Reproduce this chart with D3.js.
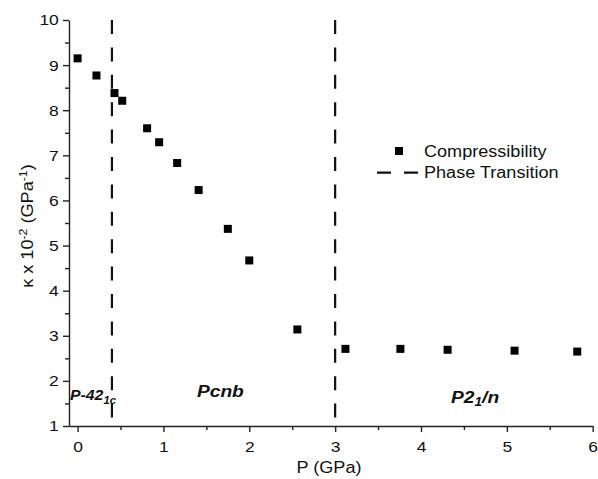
<!DOCTYPE html>
<html>
<head>
<meta charset="utf-8">
<script src="https://cdn.jsdelivr.net/npm/d3@7"></script>
<style>
  body { margin: 0; background: #fff; }
  text { font-family: Arial, "Liberation Sans", sans-serif; fill: #111; }
</style>
</head>
<body>
<div id="chart"></div>
<script>
// data
var pressure = [0.0, 0.22, 0.43, 0.52, 0.81, 0.95, 1.16, 1.41, 1.75, 2.0, 2.56, 3.12, 3.76, 4.31, 5.09, 5.82];
var kappa    = [9.15, 8.77, 8.38, 8.21, 7.60, 7.29, 6.83, 6.23, 5.37, 4.67, 3.14, 2.71, 2.71, 2.69, 2.67, 2.65];
var transitions = [0.4, 3.0];
var xTicks = [0, 1, 2, 3, 4, 5, 6];
var yTicks = [1, 2, 3, 4, 5, 6, 7, 8, 9, 10];
var legendLabels = ["Compressibility", "Phase Transition"];

var W = 598, H = 479;
var stretch = 1.13; // text in the original is a little wider than Arial

var svg = d3.select("#chart")
    .append("svg")
    .attr("width", W)
    .attr("height", H);

var x = d3.scaleLinear().domain([-0.1, 6]).range([69, 592.7]);
var y = d3.scaleLinear().domain([1, 10]).range([426, 20]);

// minor ticks first, no labels
svg.append("g")
    .attr("transform", "translate(0," + y(1) + ")")
    .call(d3.axisBottom(x).tickValues(d3.range(0.5, 6, 1)).tickSize(4).tickFormat(""))
    .call(function(g) { g.select(".domain").remove(); });
svg.append("g")
    .attr("transform", "translate(" + x(-0.1) + ",0)")
    .call(d3.axisLeft(y).tickValues(d3.range(1.5, 10, 1)).tickSize(4).tickFormat(""))
    .call(function(g) { g.select(".domain").remove(); });

// X axis
var xAxis = svg.append("g")
    .attr("transform", "translate(0," + y(1) + ")")
    .call(d3.axisBottom(x).tickValues(xTicks).tickFormat(d3.format("d"))
        .tickSize(6).tickSizeOuter(0).tickPadding(9));
xAxis.selectAll("text")
    .style("font-size", "15.5px")
    .attr("transform", "scale(" + stretch + ",1)");

// Y axis
var yAxis = svg.append("g")
    .attr("transform", "translate(" + x(-0.1) + ",0)")
    .call(d3.axisLeft(y).tickValues(yTicks).tickFormat(d3.format("d"))
        .tickSize(6).tickSizeOuter(0).tickPadding(3));
yAxis.selectAll("text")
    .style("font-size", "15.5px")
    .attr("transform", "scale(" + stretch + ",1)");

svg.selectAll(".domain, .tick line")
    .attr("stroke", "#222")
    .attr("stroke-width", 1.4);

// axis titles
svg.append("text")
    .attr("transform", "translate(329,473) scale(" + stretch + ",1)")
    .attr("text-anchor", "middle")
    .style("font-size", "16px")
    .text("P (GPa)");

var yTitle = svg.append("text")
    .attr("transform", "translate(33,226) rotate(-90) scale(" + stretch + ",1)")
    .attr("text-anchor", "middle")
    .style("font-size", "16px");
yTitle.append("tspan").text("\u03ba x 10");
yTitle.append("tspan").attr("dy", -6).style("font-size", "11px").text("-2");
yTitle.append("tspan").attr("dy", 6).text(" (GPa");
yTitle.append("tspan").attr("dy", -6).style("font-size", "11px").text("-1");
yTitle.append("tspan").attr("dy", 6).text(")");

// phase transition lines
svg.selectAll(".transition")
    .data(transitions)
    .enter().append("line")
    .attr("class", "transition")
    .attr("x1", function(d) { return x(d); })
    .attr("x2", function(d) { return x(d); })
    .attr("y1", y(10))
    .attr("y2", y(1.18))
    .attr("stroke", "#111")
    .attr("stroke-width", 2.2)
    .attr("stroke-dasharray", "14,13.4");

// data points
var pts = pressure.map(function(p, i) { return { p: p, k: kappa[i] }; });
var s = 8;
svg.selectAll(".pt")
    .data(pts)
    .enter().append("rect")
    .attr("class", "pt")
    .attr("x", function(d) { return x(d.p) - s / 2; })
    .attr("y", function(d) { return y(d.k) - s / 2; })
    .attr("width", s)
    .attr("height", s)
    .attr("fill", "#000");

// phase labels
function phaseLabel(px, py, size, parts) {
    var t = svg.append("text")
        .attr("transform", "translate(" + px + "," + py + ") scale(" + stretch + ",1)")
        .style("font-size", size + "px")
        .style("font-weight", "bold")
        .style("font-style", "italic");
    parts.forEach(function(p) {
        t.append("tspan")
            .attr("dy", p.dy || 0)
            .style("font-size", (p.size || size) + "px")
            .text(p.t);
    });
}
phaseLabel(x(-0.1) + 1, y(1.6) + 1, 14, [{ t: "P-42" }, { t: "1c", dy: 4, size: 10 }]);
phaseLabel(x(1.39), y(1.65), 17, [{ t: "Pcnb" }]);
phaseLabel(x(4.35), y(1.5), 17, [{ t: "P2" }, { t: "1", dy: 3, size: 12 }, { t: "/n", dy: -3 }]);

// legend
var lg = svg.append("g");
lg.append("rect")
    .attr("x", 399 - s / 2)
    .attr("y", 151 - s / 2)
    .attr("width", s)
    .attr("height", s)
    .attr("fill", "#000");
lg.append("line")
    .attr("x1", 377).attr("x2", 418)
    .attr("y1", 172.7).attr("y2", 172.7)
    .attr("stroke", "#111")
    .attr("stroke-width", 2.2)
    .attr("stroke-dasharray", "14,13");
lg.selectAll(".lgtext")
    .data(legendLabels)
    .enter().append("text")
    .attr("class", "lgtext")
    .attr("transform", function(d, i) { return "translate(424," + (156.5 + i * 21.5) + ") scale(" + stretch + ",1)"; })
    .style("font-size", "16px")
    .text(function(d) { return d; });
</script>
</body>
</html>
